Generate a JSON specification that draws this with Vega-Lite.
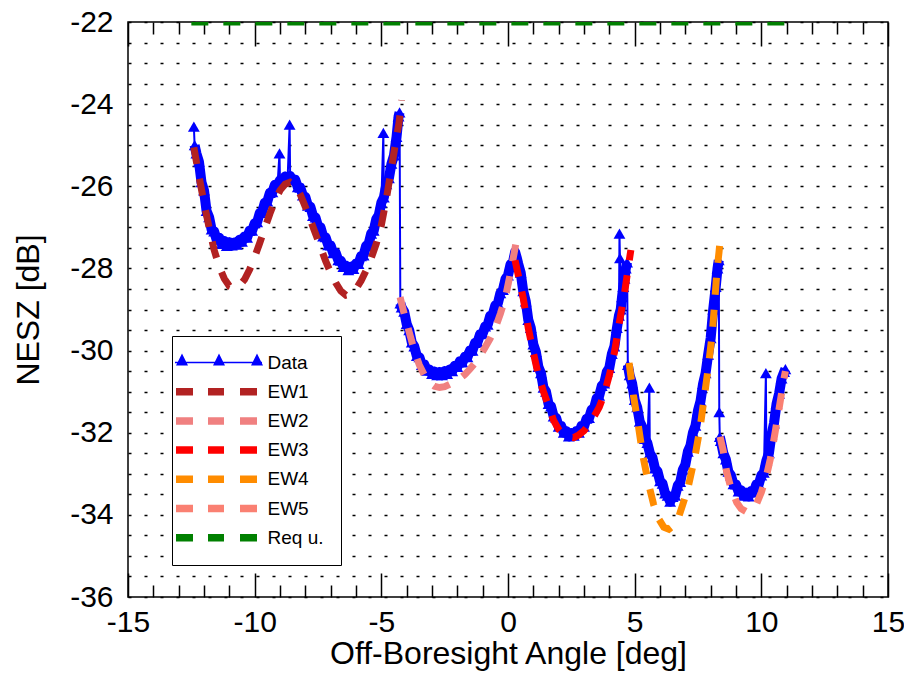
{
  "$schema": "https://vega.github.io/schema/vega-lite/v6.json",
  "width": 760,
  "height": 575,
  "autosize": {"type": "none"},
  "padding": {"left": 128, "top": 22, "right": 16, "bottom": 79},
  "background": "white",
  "config": {
    "font": "Liberation Sans",
    "view": {"stroke": "#000", "strokeWidth": 1.5},
    "axis": {"titleFontWeight": "normal", "labelColor": "#000", "titleColor": "#000"}
  },
  "datasets": {
    "meas": [
      {"b":1,"o":1,"x":-12.4,"y":-24.55},{"b":1,"x":-12.37,"y":-25.0},{"b":1,"x":-12.3,"y":-25.2},{"b":1,"x":-12.2,"y":-25.4},{"b":1,"x":-12.1,"y":-25.9},{"b":1,"x":-12.0,"y":-26.1},{"b":1,"x":-11.9,"y":-26.6},{"b":1,"x":-11.8,"y":-26.75},{"b":1,"x":-11.7,"y":-27.05},{"b":1,"x":-11.6,"y":-27.1},{"b":1,"x":-11.5,"y":-27.3},{"b":1,"x":-11.4,"y":-27.25},{"b":1,"x":-11.3,"y":-27.4},{"b":1,"x":-11.2,"y":-27.33},{"b":1,"x":-11.1,"y":-27.45},{"b":1,"x":-11.0,"y":-27.36},{"b":1,"x":-10.9,"y":-27.44},{"b":1,"x":-10.8,"y":-27.37},{"b":1,"x":-10.7,"y":-27.42},{"b":1,"x":-10.6,"y":-27.3},{"b":1,"x":-10.5,"y":-27.35},{"b":1,"x":-10.4,"y":-27.22},{"b":1,"x":-10.3,"y":-27.25},{"b":1,"x":-10.2,"y":-27.08},{"b":1,"x":-10.1,"y":-27.08},{"b":1,"x":-10.0,"y":-26.9},{"b":1,"x":-9.9,"y":-26.87},{"b":1,"x":-9.8,"y":-26.65},{"b":1,"x":-9.7,"y":-26.62},{"b":1,"x":-9.6,"y":-26.4},{"b":1,"x":-9.5,"y":-26.37},{"b":1,"x":-9.4,"y":-26.16},{"b":1,"x":-9.3,"y":-26.14},{"b":1,"x":-9.2,"y":-25.96},{"b":1,"x":-9.1,"y":-25.98},{"b":1,"o":1,"x":-9.02,"y":-25.2},{"b":1,"x":-9.0,"y":-25.85},{"b":1,"x":-8.9,"y":-25.88},{"b":1,"x":-8.8,"y":-25.76},{"b":1,"x":-8.7,"y":-25.82},{"b":1,"o":1,"x":-8.62,"y":-24.5},{"b":1,"x":-8.6,"y":-25.75},{"b":1,"x":-8.5,"y":-25.85},{"b":1,"x":-8.4,"y":-25.84},{"b":1,"x":-8.3,"y":-26.02},{"b":1,"x":-8.2,"y":-26.03},{"b":1,"x":-8.1,"y":-26.22},{"b":1,"x":-8.0,"y":-26.26},{"b":1,"x":-7.9,"y":-26.47},{"b":1,"x":-7.8,"y":-26.5},{"b":1,"x":-7.7,"y":-26.72},{"b":1,"x":-7.6,"y":-26.76},{"b":1,"x":-7.5,"y":-26.97},{"b":1,"x":-7.4,"y":-27.0},{"b":1,"x":-7.3,"y":-27.22},{"b":1,"x":-7.2,"y":-27.24},{"b":1,"x":-7.1,"y":-27.43},{"b":1,"x":-7.0,"y":-27.44},{"b":1,"x":-6.9,"y":-27.63},{"b":1,"x":-6.8,"y":-27.62},{"b":1,"x":-6.7,"y":-27.8},{"b":1,"x":-6.6,"y":-27.81},{"b":1,"x":-6.5,"y":-27.96},{"b":1,"x":-6.4,"y":-27.93},{"b":1,"x":-6.3,"y":-28.04},{"b":1,"x":-6.2,"y":-27.96},{"b":1,"x":-6.1,"y":-28.01},{"b":1,"x":-6.0,"y":-27.88},{"b":1,"x":-5.9,"y":-27.89},{"b":1,"x":-5.8,"y":-27.7},{"b":1,"x":-5.7,"y":-27.68},{"b":1,"x":-5.6,"y":-27.45},{"b":1,"x":-5.5,"y":-27.4},{"b":1,"x":-5.4,"y":-27.15},{"b":1,"x":-5.3,"y":-27.08},{"b":1,"x":-5.2,"y":-26.8},{"b":1,"x":-5.1,"y":-26.7},{"b":1,"x":-5.0,"y":-26.4},{"b":1,"o":1,"x":-4.92,"y":-24.7},{"b":1,"x":-4.9,"y":-26.27},{"b":1,"x":-4.8,"y":-25.95},{"b":1,"x":-4.7,"y":-25.8},{"b":1,"x":-4.6,"y":-25.45},{"b":1,"x":-4.5,"y":-25.25},{"b":1,"x":-4.4,"y":-24.8},{"b":1,"x":-4.32,"y":-24.3},{"b":1,"x":-4.28,"y":-24.2},
      {"b":2,"x":-4.25,"y":-28.85},{"b":2,"x":-4.2,"y":-28.95},{"b":2,"x":-4.1,"y":-29.05},{"b":2,"x":-4.0,"y":-29.35},{"b":2,"x":-3.9,"y":-29.5},{"b":2,"x":-3.8,"y":-29.8},{"b":2,"x":-3.7,"y":-29.9},{"b":2,"x":-3.6,"y":-30.13},{"b":2,"x":-3.5,"y":-30.16},{"b":2,"x":-3.4,"y":-30.35},{"b":2,"x":-3.3,"y":-30.34},{"b":2,"x":-3.2,"y":-30.49},{"b":2,"x":-3.1,"y":-30.46},{"b":2,"x":-3.0,"y":-30.57},{"b":2,"x":-2.9,"y":-30.51},{"b":2,"x":-2.8,"y":-30.6},{"b":2,"x":-2.7,"y":-30.52},{"b":2,"x":-2.6,"y":-30.6},{"b":2,"x":-2.5,"y":-30.5},{"b":2,"x":-2.4,"y":-30.57},{"b":2,"x":-2.3,"y":-30.46},{"b":2,"x":-2.2,"y":-30.5},{"b":2,"x":-2.1,"y":-30.37},{"b":2,"x":-2.0,"y":-30.4},{"b":2,"x":-1.9,"y":-30.26},{"b":2,"x":-1.8,"y":-30.29},{"b":2,"x":-1.7,"y":-30.15},{"b":2,"x":-1.6,"y":-30.16},{"b":2,"x":-1.5,"y":-30.0},{"b":2,"x":-1.4,"y":-30.0},{"b":2,"x":-1.3,"y":-29.81},{"b":2,"x":-1.2,"y":-29.79},{"b":2,"x":-1.1,"y":-29.6},{"b":2,"x":-1.0,"y":-29.59},{"b":2,"x":-0.9,"y":-29.41},{"b":2,"x":-0.8,"y":-29.37},{"b":2,"x":-0.7,"y":-29.15},{"b":2,"x":-0.6,"y":-29.12},{"b":2,"x":-0.5,"y":-28.9},{"b":2,"x":-0.4,"y":-28.85},{"b":2,"x":-0.3,"y":-28.6},{"b":2,"x":-0.2,"y":-28.52},{"b":2,"x":-0.1,"y":-28.26},{"b":2,"x":0.0,"y":-28.17},{"b":2,"x":0.1,"y":-27.9},{"b":2,"x":0.2,"y":-27.84},{"b":2,"x":0.28,"y":-27.6},{"b":2,"x":0.35,"y":-27.75},
      {"b":2,"x":0.4,"y":-27.88},{"b":2,"x":0.5,"y":-28.1},{"b":2,"x":0.6,"y":-28.55},{"b":2,"x":0.7,"y":-28.8},{"b":2,"x":0.8,"y":-29.25},{"b":2,"x":0.9,"y":-29.45},{"b":2,"x":1.0,"y":-29.85},{"b":2,"x":1.1,"y":-30.03},{"b":2,"x":1.2,"y":-30.4},{"b":2,"x":1.3,"y":-30.55},{"b":2,"x":1.4,"y":-30.9},{"b":2,"x":1.5,"y":-31.0},{"b":2,"x":1.6,"y":-31.3},{"b":2,"x":1.7,"y":-31.36},{"b":2,"x":1.8,"y":-31.6},{"b":2,"x":1.9,"y":-31.64},{"b":2,"x":2.0,"y":-31.85},{"b":2,"x":2.1,"y":-31.84},{"b":2,"x":2.2,"y":-32.0},{"b":2,"x":2.3,"y":-31.96},{"b":2,"x":2.4,"y":-32.09},{"b":2,"x":2.5,"y":-32.01},{"b":2,"x":2.6,"y":-32.07},{"b":2,"x":2.7,"y":-31.96},{"b":2,"x":2.8,"y":-32.0},{"b":2,"x":2.9,"y":-31.84},{"b":2,"x":3.0,"y":-31.85},{"b":2,"x":3.1,"y":-31.66},{"b":2,"x":3.2,"y":-31.64},{"b":2,"x":3.3,"y":-31.44},{"b":2,"x":3.4,"y":-31.4},{"b":2,"x":3.5,"y":-31.16},{"b":2,"x":3.6,"y":-31.1},{"b":2,"x":3.7,"y":-30.86},{"b":2,"x":3.8,"y":-30.8},{"b":2,"x":3.9,"y":-30.52},{"b":2,"x":4.0,"y":-30.42},{"b":2,"x":4.1,"y":-30.08},{"b":2,"x":4.2,"y":-29.9},{"b":2,"x":4.3,"y":-29.45},{"b":2,"x":4.38,"y":-29.15},{"b":2,"o":1,"x":4.4,"y":-27.15},{"b":2,"o":1,"x":4.42,"y":-27.75},{"b":2,"x":4.45,"y":-29.0},{"b":2,"x":4.5,"y":-28.7},{"b":2,"x":4.55,"y":-28.45},{"b":2,"x":4.6,"y":-28.25},{"b":2,"x":4.65,"y":-28.0},{"b":2,"x":4.7,"y":-27.85},
      {"b":3,"x":4.73,"y":-30.35},{"b":3,"x":4.8,"y":-30.6},{"b":3,"x":4.9,"y":-30.8},{"b":3,"x":5.0,"y":-31.2},{"b":3,"x":5.1,"y":-31.38},{"b":3,"x":5.2,"y":-31.73},{"b":3,"x":5.3,"y":-31.86},{"b":3,"x":5.4,"y":-32.15},{"b":3,"x":5.5,"y":-32.25},{"b":3,"o":1,"x":5.58,"y":-30.9},{"b":3,"x":5.6,"y":-32.5},{"b":3,"x":5.7,"y":-32.6},{"b":3,"x":5.8,"y":-32.87},{"b":3,"x":5.9,"y":-32.94},{"b":3,"x":6.0,"y":-33.18},{"b":3,"x":6.1,"y":-33.24},{"b":3,"x":6.2,"y":-33.48},{"b":3,"x":6.3,"y":-33.53},{"b":3,"x":6.4,"y":-33.68},{"b":3,"x":6.5,"y":-33.56},{"b":3,"x":6.6,"y":-33.53},{"b":3,"x":6.7,"y":-33.29},{"b":3,"x":6.8,"y":-33.2},{"b":3,"x":6.9,"y":-32.9},{"b":3,"x":7.0,"y":-32.78},{"b":3,"x":7.1,"y":-32.46},{"b":3,"x":7.2,"y":-32.32},{"b":3,"x":7.3,"y":-32.0},{"b":3,"x":7.4,"y":-31.83},{"b":3,"x":7.5,"y":-31.46},{"b":3,"x":7.6,"y":-31.23},{"b":3,"x":7.7,"y":-30.81},{"b":3,"x":7.8,"y":-30.55},{"b":3,"x":7.9,"y":-30.1},{"b":3,"x":8.0,"y":-29.7},{"b":3,"x":8.1,"y":-29.0},{"b":3,"x":8.2,"y":-28.45},{"b":3,"x":8.27,"y":-28.0},{"b":3,"x":8.32,"y":-27.8},
      {"b":4,"o":1,"x":8.34,"y":-31.5},{"b":4,"x":8.36,"y":-32.1},{"b":4,"x":8.4,"y":-32.2},{"b":4,"x":8.5,"y":-32.5},{"b":4,"x":8.6,"y":-32.65},{"b":4,"x":8.7,"y":-32.95},{"b":4,"x":8.8,"y":-33.04},{"b":4,"x":8.9,"y":-33.25},{"b":4,"x":9.0,"y":-33.26},{"b":4,"x":9.1,"y":-33.43},{"b":4,"x":9.2,"y":-33.4},{"b":4,"x":9.3,"y":-33.53},{"b":4,"x":9.4,"y":-33.46},{"b":4,"x":9.5,"y":-33.55},{"b":4,"x":9.6,"y":-33.42},{"b":4,"x":9.7,"y":-33.45},{"b":4,"x":9.8,"y":-33.26},{"b":4,"x":9.9,"y":-33.25},{"b":4,"x":10.0,"y":-33.04},{"b":4,"x":10.1,"y":-32.97},{"b":4,"o":1,"x":10.18,"y":-30.55},{"b":4,"x":10.2,"y":-32.68},{"b":4,"x":10.3,"y":-32.5},{"b":4,"x":10.4,"y":-32.05},{"b":4,"x":10.5,"y":-31.77},{"b":4,"x":10.6,"y":-31.3},{"b":4,"x":10.7,"y":-31.05},{"b":4,"x":10.8,"y":-30.68},{"b":4,"x":10.9,"y":-30.52},{"b":4,"x":10.95,"y":-30.45}
    ],
    "model": [
      {"s":"EW1","x":-12.4,"y":-25.05},{"s":"EW1","x":-12.2,"y":-25.75},{"s":"EW1","x":-12.0,"y":-26.4},{"s":"EW1","x":-11.8,"y":-27.0},{"s":"EW1","x":-11.6,"y":-27.55},{"s":"EW1","x":-11.4,"y":-27.95},{"s":"EW1","x":-11.2,"y":-28.25},{"s":"EW1","x":-11.0,"y":-28.43},{"s":"EW1","x":-10.8,"y":-28.48},{"s":"EW1","x":-10.6,"y":-28.42},{"s":"EW1","x":-10.4,"y":-28.27},{"s":"EW1","x":-10.2,"y":-28.03},{"s":"EW1","x":-10.0,"y":-27.72},{"s":"EW1","x":-9.8,"y":-27.38},{"s":"EW1","x":-9.6,"y":-27.02},{"s":"EW1","x":-9.4,"y":-26.67},{"s":"EW1","x":-9.2,"y":-26.35},{"s":"EW1","x":-9.0,"y":-26.1},{"s":"EW1","x":-8.8,"y":-25.95},{"s":"EW1","x":-8.6,"y":-25.9},{"s":"EW1","x":-8.4,"y":-25.98},{"s":"EW1","x":-8.2,"y":-26.2},{"s":"EW1","x":-8.0,"y":-26.5},{"s":"EW1","x":-7.8,"y":-26.82},{"s":"EW1","x":-7.6,"y":-27.15},{"s":"EW1","x":-7.4,"y":-27.48},{"s":"EW1","x":-7.2,"y":-27.82},{"s":"EW1","x":-7.0,"y":-28.1},{"s":"EW1","x":-6.8,"y":-28.35},{"s":"EW1","x":-6.6,"y":-28.55},{"s":"EW1","x":-6.4,"y":-28.65},{"s":"EW1","x":-6.2,"y":-28.62},{"s":"EW1","x":-6.0,"y":-28.5},{"s":"EW1","x":-5.8,"y":-28.3},{"s":"EW1","x":-5.6,"y":-28.05},{"s":"EW1","x":-5.4,"y":-27.75},{"s":"EW1","x":-5.2,"y":-27.4},{"s":"EW1","x":-5.0,"y":-26.95},{"s":"EW1","x":-4.8,"y":-26.3},{"s":"EW1","x":-4.6,"y":-25.55},{"s":"EW1","x":-4.4,"y":-24.8},{"s":"EW1","x":-4.3,"y":-24.45},{"s":"EW1","x":-4.2,"y":-23.9},
      {"s":"EW2","x":-4.26,"y":-28.7},{"s":"EW2","x":-4.1,"y":-29.1},{"s":"EW2","x":-3.9,"y":-29.55},{"s":"EW2","x":-3.7,"y":-30.0},{"s":"EW2","x":-3.5,"y":-30.35},{"s":"EW2","x":-3.3,"y":-30.6},{"s":"EW2","x":-3.1,"y":-30.78},{"s":"EW2","x":-2.9,"y":-30.87},{"s":"EW2","x":-2.7,"y":-30.9},{"s":"EW2","x":-2.5,"y":-30.88},{"s":"EW2","x":-2.3,"y":-30.82},{"s":"EW2","x":-2.1,"y":-30.76},{"s":"EW2","x":-1.9,"y":-30.68},{"s":"EW2","x":-1.7,"y":-30.58},{"s":"EW2","x":-1.5,"y":-30.45},{"s":"EW2","x":-1.3,"y":-30.3},{"s":"EW2","x":-1.1,"y":-30.12},{"s":"EW2","x":-0.9,"y":-29.92},{"s":"EW2","x":-0.7,"y":-29.7},{"s":"EW2","x":-0.5,"y":-29.45},{"s":"EW2","x":-0.3,"y":-29.1},{"s":"EW2","x":-0.1,"y":-28.7},{"s":"EW2","x":0.1,"y":-28.1},{"s":"EW2","x":0.25,"y":-27.6},{"s":"EW2","x":0.4,"y":-27.1},
      {"s":"EW3","x":0.28,"y":-27.8},{"s":"EW3","x":0.4,"y":-28.15},{"s":"EW3","x":0.6,"y":-28.72},{"s":"EW3","x":0.8,"y":-29.45},{"s":"EW3","x":1.0,"y":-30.05},{"s":"EW3","x":1.2,"y":-30.6},{"s":"EW3","x":1.4,"y":-31.0},{"s":"EW3","x":1.6,"y":-31.35},{"s":"EW3","x":1.8,"y":-31.7},{"s":"EW3","x":2.0,"y":-31.92},{"s":"EW3","x":2.2,"y":-32.05},{"s":"EW3","x":2.4,"y":-32.1},{"s":"EW3","x":2.6,"y":-32.12},{"s":"EW3","x":2.8,"y":-32.05},{"s":"EW3","x":3.0,"y":-31.95},{"s":"EW3","x":3.2,"y":-31.8},{"s":"EW3","x":3.4,"y":-31.6},{"s":"EW3","x":3.6,"y":-31.38},{"s":"EW3","x":3.8,"y":-31.05},{"s":"EW3","x":4.0,"y":-30.6},{"s":"EW3","x":4.2,"y":-30.05},{"s":"EW3","x":4.4,"y":-29.3},{"s":"EW3","x":4.6,"y":-28.6},{"s":"EW3","x":4.8,"y":-27.75},{"s":"EW3","x":4.85,"y":-27.55},
      {"s":"EW4","x":4.78,"y":-30.3},{"s":"EW4","x":4.95,"y":-31.08},{"s":"EW4","x":5.15,"y":-31.85},{"s":"EW4","x":5.32,"y":-32.55},{"s":"EW4","x":5.55,"y":-33.25},{"s":"EW4","x":5.75,"y":-33.75},{"s":"EW4","x":5.95,"y":-34.1},{"s":"EW4","x":6.15,"y":-34.3},{"s":"EW4","x":6.35,"y":-34.35},{"s":"EW4","x":6.55,"y":-34.25},{"s":"EW4","x":6.75,"y":-34.03},{"s":"EW4","x":6.95,"y":-33.65},{"s":"EW4","x":7.12,"y":-33.3},{"s":"EW4","x":7.38,"y":-32.58},{"s":"EW4","x":7.58,"y":-31.89},{"s":"EW4","x":7.75,"y":-31.12},{"s":"EW4","x":7.91,"y":-30.39},{"s":"EW4","x":8.07,"y":-29.54},{"s":"EW4","x":8.16,"y":-28.8},{"s":"EW4","x":8.25,"y":-28.05},{"s":"EW4","x":8.33,"y":-27.6},{"s":"EW4","x":8.4,"y":-27.15},
      {"s":"EW5","x":8.37,"y":-32.1},{"s":"EW5","x":8.5,"y":-32.45},{"s":"EW5","x":8.63,"y":-32.95},{"s":"EW5","x":8.8,"y":-33.35},{"s":"EW5","x":9.03,"y":-33.7},{"s":"EW5","x":9.2,"y":-33.85},{"s":"EW5","x":9.4,"y":-33.92},{"s":"EW5","x":9.6,"y":-33.9},{"s":"EW5","x":9.82,"y":-33.72},{"s":"EW5","x":10.0,"y":-33.45},{"s":"EW5","x":10.21,"y":-33.03},{"s":"EW5","x":10.35,"y":-32.65},{"s":"EW5","x":10.47,"y":-32.26},{"s":"EW5","x":10.67,"y":-31.53},{"s":"EW5","x":10.87,"y":-30.76},{"s":"EW5","x":10.95,"y":-30.5},
      {"s":"Req u.","x":-12.5,"y":-22},{"s":"Req u.","x":11,"y":-22}
    ]
  },
  "encoding": {
    "x": {
      "field": "x", "type": "quantitative",
      "scale": {"domain": [-15, 15], "nice": false, "zero": false},
      "axis": {
        "title": "Off-Boresight Angle [deg]",
        "values": [-15,-14,-13,-12,-11,-10,-9,-8,-7,-6,-5,-4,-3,-2,-1,0,1,2,3,4,5,6,7,8,9,10,11,12,13,14,15],
        "labelExpr": "datum.value % 5 === 0 ? '' + datum.value : ''",
        "ticks": false, "domain": false, "grid": true,
        "gridColor": "#000", "gridWidth": 1.5, "gridOpacity": 1,
        "gridDash": {"condition": {"test": "datum.value % 5 === 0", "value": [24, 527, 24]}, "value": [12, 551, 12]},
        "labelFontSize": 30, "labelPadding": 10, "labelFlush": false, "labelOverlap": false,
        "titleFontSize": 32, "titlePadding": 1
      }
    },
    "y": {
      "field": "y", "type": "quantitative",
      "scale": {"domain": [-36, -22], "nice": false, "zero": false},
      "axis": {
        "title": "NESZ [dB]",
        "values": [-36,-35.5,-35,-34.5,-34,-33.5,-33,-32.5,-32,-31.5,-31,-30.5,-30,-29.5,-29,-28.5,-28,-27.5,-27,-26.5,-26,-25.5,-25,-24.5,-24,-23.5,-23,-22.5,-22],
        "labelExpr": "datum.value % 2 === 0 ? '' + datum.value : ''",
        "ticks": false, "domain": false, "grid": true,
        "gridColor": "#000", "gridWidth": 1.5, "gridOpacity": 1, "gridDash": [3, 13],
        "labelFontSize": 30, "labelPadding": 15, "labelOverlap": false,
        "titleFontSize": 32, "titlePadding": 24
      }
    }
  },
  "layer": [
    {
      "data": {"name": "meas"},
      "transform": [{"filter": "datum.o !== 1"}],
      "mark": {"type": "line", "strokeWidth": 10, "color": "#0000ff", "strokeJoin": "round"},
      "encoding": {"detail": {"field": "b", "type": "nominal"}}
    },
    {
      "data": {"name": "meas"},
      "transform": [{"calculate": "'Data'", "as": "s"}],
      "mark": {"type": "line", "strokeWidth": 2},
      "encoding": {
        "color": {
          "field": "s", "type": "nominal",
          "scale": {"domain": ["Data","EW1","EW2","EW3","EW4","EW5","Req u."], "range": ["#0000ff","#b22222","#f08080","#ff0000","#ff8c00","#fa8072","#008000"]},
          "legend": {
            "orient": "none", "legendX": 44, "legendY": 314, "title": null,
            "strokeColor": "#000", "fillColor": "#fff", "padding": 17,
            "labelFontSize": 19, "labelColor": "#000", "labelFont": "Liberation Sans",
            "symbolType": "square", "symbolSize": 100, "symbolStrokeWidth": 0,
            "symbolOffset": 16.5, "labelOffset": 43, "rowPadding": 9.2,
            "encode": {"symbols": {"update": {
              "shape": {"signal": "datum.value === 'Data' ? 'M-8,-0.16H9.4V0.16H-8ZM-6.6,-1.8L-5.4,0.6L-7.8,0.6ZM0.8,-1.8L2,0.6L-0.4,0.6ZM8.4,-1.8L9.6,0.6L7.2,0.6Z' : 'M-7.8,-0.75H-4.4V0.75H-7.8ZM-1.4,-0.75H1.8V0.75H-1.4ZM5,-0.75H8.4V0.75H5Z'"},
              "fill": {"signal": "scale('color', datum.value)"},
              "fillOpacity": {"value": 1},
              "opacity": {"value": 1},
              "strokeOpacity": {"value": 0}
            }}}
          }
        }
      }
    },
    {
      "data": {"name": "meas"},
      "mark": {"type": "point", "shape": "triangle-up", "filled": true, "size": 140, "opacity": 1, "color": "#0000ff"}
    },
    {
      "data": {"name": "model"},
      "mark": {"type": "line", "strokeWidth": 7, "strokeCap": "butt", "strokeDash": [17, 15], "clip": true},
      "encoding": {
        "color": {"field": "s", "type": "nominal"}
      }
    }
  ]
}
